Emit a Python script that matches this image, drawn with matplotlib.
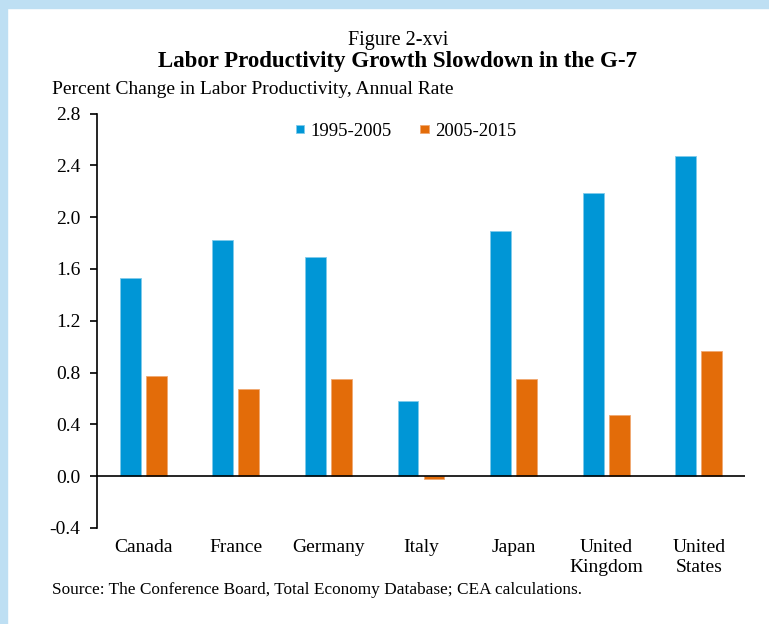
import numpy as np
import matplotlib.pyplot as plt
from matplotlib.patches import Rectangle

# G-7 labor productivity growth, percent annual rate
countries = ["Canada", "France", "Germany", "Italy", "Japan", "United\nKingdom", "United\nStates"]
growth_1995_2005 = [1.53, 1.82, 1.69, 0.58, 1.89, 2.19, 2.47]
growth_2005_2015 = [0.77, 0.67, 0.75, -0.02, 0.75, 0.47, 0.97]
yticks = [-0.4, 0.0, 0.4, 0.8, 1.2, 1.6, 2.0, 2.4, 2.8]

blue = "#0096D6"
orange = "#E36C09"
serif = ["Liberation Serif", "DejaVu Serif"]
plt.rcParams["font.family"] = serif

fig = plt.figure(figsize=(7.69, 6.24), dpi=100)
# light blue frame on top and left
fig.patches.append(Rectangle((0, 1 - 8 / 624), 1, 8 / 624, transform=fig.transFigure, color="#BEDFF3", zorder=0))
fig.patches.append(Rectangle((0, 0), 7 / 769, 1, transform=fig.transFigure, color="#BEDFF3", zorder=0))

ax = fig.add_axes([97 / 769, 1 - 528 / 624, (745 - 97) / 769, (528 - 113.5) / 624])

x = np.arange(len(countries))
w = 0.225
ax.bar(x - 0.14, growth_1995_2005, w, color=blue, edgecolor="#7FCBEB", linewidth=0.6, label="1995-2005", zorder=2)
ax.bar(x + 0.14, growth_2005_2015, w, color=orange, edgecolor="#F0A872", linewidth=0.6, label="2005-2015", zorder=2)
ax.axhline(0, color="black", linewidth=1.2, zorder=3)

ax.set_xlim(-0.5, len(countries) - 0.5)
ax.set_ylim(-0.4, 2.8)
ax.set_yticks(yticks)
ax.set_yticklabels([f"{t:.1f}" for t in yticks], fontsize=14)
ax.set_xticks(x)
ax.set_xticklabels(countries, fontsize=14, linespacing=1.2)
ax.tick_params(axis="x", length=0, pad=8)
ax.tick_params(axis="y", length=5, width=1.2, direction="out", pad=7)
for s in ["top", "right", "bottom"]:
    ax.spines[s].set_visible(False)
ax.spines["left"].set_linewidth(1.2)

ax.legend(loc="upper center", bbox_to_anchor=(0.477, 1.0), ncol=2, frameon=False,
          fontsize=13.5, handlelength=0.45, handleheight=0.3, handletextpad=0.35,
          columnspacing=1.5, borderaxespad=0.1)

fig.text(398 / 769, 1 - 40 / 624, "Figure 2-xvi", ha="center", va="center", fontsize=14.5)
fig.text(398 / 769, 1 - 62 / 624, "Labor Productivity Growth Slowdown in the G-7", ha="center",
         va="center", fontsize=16.5, fontweight="bold")
fig.text(52 / 769, 1 - 90 / 624, "Percent Change in Labor Productivity, Annual Rate", ha="left",
         va="center", fontsize=14)
fig.text(52 / 769, 1 - 590 / 624, "Source: The Conference Board, Total Economy Database; CEA calculations.",
         ha="left", va="center", fontsize=12.4)

fig.savefig("out.png", dpi=100)
